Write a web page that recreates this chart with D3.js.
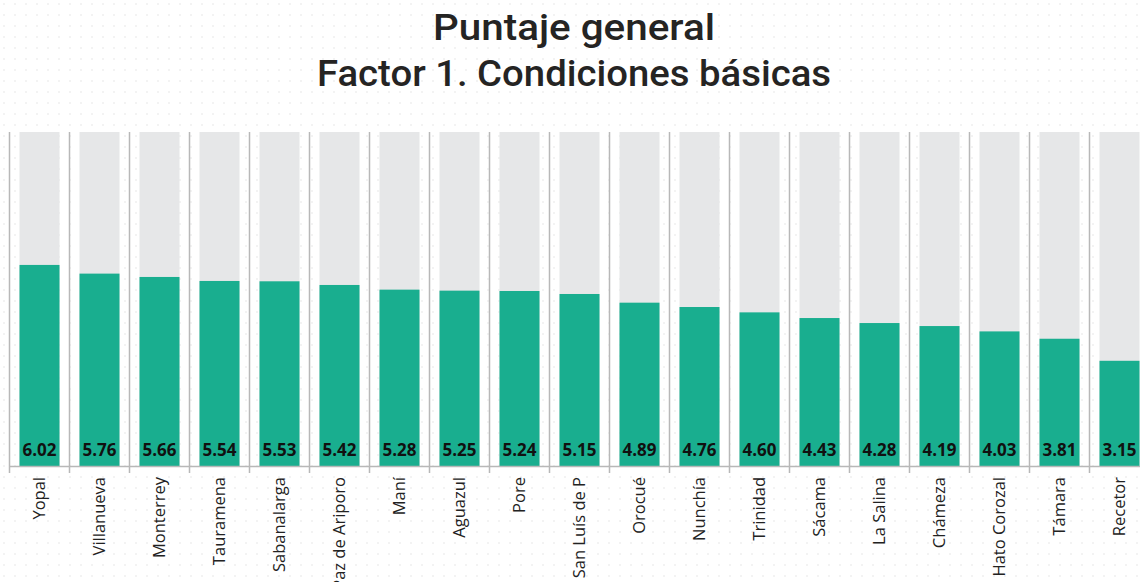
<!DOCTYPE html>
<html>
<head>
<meta charset="utf-8">
<script src="https://cdnjs.cloudflare.com/ajax/libs/d3/7.8.5/d3.min.js"></script>
<style>
  html, body { margin: 0; padding: 0; background: #fff; overflow: hidden; }
  svg { display: block; }
</style>
</head>
<body>
<div id="chart"></div>
<script>
// datos
const municipios = ['Yopal', 'Villanueva', 'Monterrey', 'Tauramena', 'Sabanalarga', 'Paz de Ariporo',
  'Maní', 'Aguazul', 'Pore', 'San Luís de P', 'Orocué', 'Nunchía', 'Trinidad', 'Sácama',
  'La Salina', 'Chámeza', 'Hato Corozal', 'Támara', 'Recetor']
const puntajes = [6.02, 5.76, 5.66, 5.54, 5.53, 5.42, 5.28, 5.25, 5.24, 5.15, 4.89, 4.76, 4.60, 4.43,
  4.28, 4.19, 4.03, 3.81, 3.15]
const maximo = [10]
const titulos = ['Puntaje general', 'Factor 1. Condiciones básicas']

const width = 1140
const height = 582
const verde = '#19ae8f'
const gris = '#e6e7e8'

const svg = d3.select('#chart').append('svg').attr('width', width).attr('height', height)

// fondo punteado tipo Power BI
const defs = svg.append('defs')
const pat = defs.append('pattern').attr('id', 'dots')
  .attr('width', 11).attr('height', 11).attr('patternUnits', 'userSpaceOnUse')
pat.append('circle').attr('cx', 4).attr('cy', 4).attr('r', 0.9).attr('fill', '#eeeeee')
svg.append('rect').attr('width', width).attr('height', height).attr('fill', 'url(#dots)')

// titulo
const t = svg.append('g').attr('class', 'titulo')
t.selectAll('text')
  .data(titulos)
  .join('text')
  .attr('x', 574)
  .attr('y', (d, i) => 40 + i * 46)
  .attr('text-anchor', 'middle')
  .style('font-family', 'Roboto, sans-serif')
  .style('font-weight', 500)
  .style('font-size', '36px')
  .style('fill', '#252423')
  .text(d => d)
  .each(function (d, i) {
    // ajustar al ancho del titulo original (fuente condensada)
    const w = i === 0 ? 282 : 514
    d3.select(this).attr('textLength', w).attr('lengthAdjust', 'spacingAndGlyphs')
  })

const xScale = d3.scaleBand().domain(municipios).range([9.5, 9.5 + 60 * municipios.length])
  .paddingInner(1 / 3).paddingOuter(1 / 6)
const yScale = d3.scaleLinear().domain([0, maximo[0]]).range([466, 132])

const chartGroup = svg.append('g')

// separadores verticales entre categorias
const bordes = municipios.map((d, i) => 9.5 + i * 60)
chartGroup.selectAll('.sep')
  .data(bordes)
  .join('line')
  .attr('class', 'sep')
  .attr('x1', d => d).attr('x2', d => d)
  .attr('y1', yScale(maximo[0])).attr('y2', 473)
  .attr('stroke', '#b8b8b8')
  .attr('stroke-width', 1.5)

// barra de fondo (maximo)
chartGroup.selectAll('.fondo')
  .data(municipios)
  .join('rect')
  .attr('class', 'fondo')
  .attr('x', d => xScale(d))
  .attr('width', xScale.bandwidth())
  .attr('y', yScale(maximo[0]))
  .attr('height', yScale(0) - yScale(maximo[0]))
  .attr('fill', gris)

// barras de puntaje
chartGroup.selectAll('.bar')
  .data(puntajes)
  .join('rect')
  .attr('class', 'bar')
  .attr('x', (d, i) => xScale(municipios[i]))
  .attr('width', xScale.bandwidth())
  .attr('y', d => yScale(d))
  .attr('height', d => yScale(0) - yScale(d))
  .attr('fill', verde)

// etiquetas de valor
chartGroup.selectAll('.valor')
  .data(puntajes)
  .join('text')
  .attr('class', 'valor')
  .attr('x', (d, i) => xScale(municipios[i]) + xScale.bandwidth() / 2)
  .attr('y', yScale(0) - 10)
  .attr('text-anchor', 'middle')
  .style('font-family', '"Open Sans", sans-serif')
  .style('font-weight', 700)
  .style('font-size', '17px')
  .style('fill', '#111')
  .text(d => d.toFixed(2))

// eje x
const xAxis = d3.axisBottom(xScale).tickSize(0).tickPadding(0)
const ax = chartGroup.append('g')
  .attr('transform', `translate(0, ${yScale(0)})`)
  .call(xAxis)
ax.select('.domain').attr('stroke', '#b8b8b8').attr('stroke-width', 1.5)
ax.selectAll('text')
  .attr('transform', 'rotate(-90)')
  .attr('x', -11)
  .attr('y', 0)
  .attr('dy', '0.35em')
  .style('text-anchor', 'end')
  .style('font-family', '"Open Sans", sans-serif')
  .style('font-size', '16.5px')
  .style('fill', '#222')
</script>
</body>
</html>
